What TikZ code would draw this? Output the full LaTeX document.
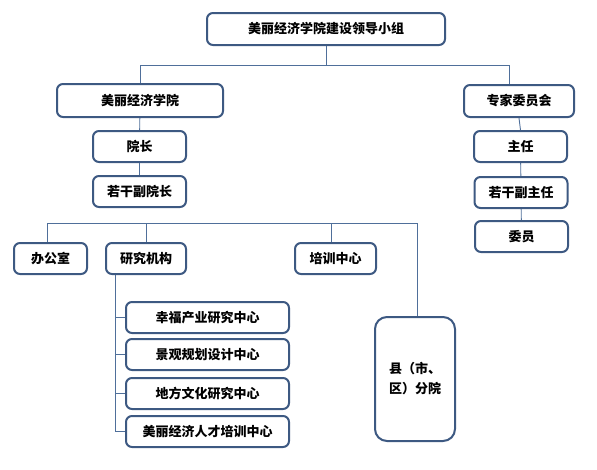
\documentclass[tikz,border=0pt]{standalone}
\usepackage{fontspec}
\newfontfamily\cjk{Noto Sans CJK SC}
\definecolor{boxblue}{HTML}{3D5982}
\definecolor{lineblue}{HTML}{4F6F9A}
\tikzset{
  unit/.style={draw=boxblue, line width=2pt, rounded corners=6pt, fill=white,
    inner sep=0pt, minimum height=31pt, align=center,
    font=\cjk\bfseries\fontsize{13}{20}\selectfont},
  link/.style={draw=lineblue, line width=0.9pt}
}
\begin{document}
\begin{tikzpicture}[x=1pt,y=-1pt]
    \useasboundingbox (0,0) rectangle (597,469);
    % top level
    \node[unit, minimum width=238pt, minimum height=32pt] (lead) at (326,29) {美丽经济学院建设领导小组};
    \node[unit, minimum width=166pt, minimum height=33pt] (college) at (140,100.5) {美丽经济学院};
    \node[unit, minimum width=110pt, minimum height=32pt] (experts) at (519,101) {专家委员会};
    % college side
    \node[unit, minimum width=93pt] (dean) at (139.5,146.5) {院长};
    \node[unit, minimum width=93pt] (vicedean) at (139.5,191.5) {若干副院长};
    % committee side
    \node[unit, minimum width=93pt] (chair) at (520.5,146.5) {主任};
    \node[unit, minimum width=93pt] (vicechair) at (521,192.5) {若干副主任};
    \node[unit, minimum width=93pt] (member) at (521.5,236.5) {委员};
    % departments
    \node[unit, minimum width=73pt] (office) at (50.5,258.5) {办公室};
    \node[unit, minimum width=80pt] (research) at (146,258.5) {研究机构};
    \node[unit, minimum width=81pt] (training) at (335.5,258.5) {培训中心};
    \node[unit, minimum width=80pt, minimum height=124pt, rounded corners=12pt] (branch) at (415,379) {县（市、\\区）分院};
    % research centres
    \node[unit, minimum width=163pt] (rc1) at (207.5,317.5) {幸福产业研究中心};
    \node[unit, minimum width=163pt] (rc2) at (207.5,354.5) {景观规划设计中心};
    \node[unit, minimum width=163pt] (rc3) at (207.5,393.5) {地方文化研究中心};
    \node[unit, minimum width=163pt] (rc4) at (207.5,431.5) {美丽经济人才培训中心};

    \coordinate (busA) at (0,65); \coordinate (busB) at (0,223); %bus lines
    \coordinate (spine) at (115,0);
    \coordinate (expertsin) at ([xshift=-10pt]experts.north);
    \coordinate (officein) at ([xshift=-3.5pt]office.north);
    \coordinate (trainingin) at ([xshift=-4.5pt]training.north);
    \coordinate (branchin) at ([xshift=2pt]branch.north);

    \draw[link] (lead.south) -- (lead.south |- busA);
    \draw[link] (college.north) |- (busA -| expertsin) -- (expertsin);
    \draw[link] (college) -- (dean); \draw[link] (dean) -- (vicedean);
    \draw[link] (experts.south) -- (chair.north); \draw[link] (chair) -- (vicechair); \draw[link] (vicechair) -- (member);

    \draw[link] (officein) |- (busB -| branchin) -- (branchin);
    \draw[link] (research.north) -- (research.north |- busB);
    \draw[link] (trainingin) -- (trainingin |- busB);

    \draw[link] (spine |- research.south) |- (rc4.west);
    \foreach \c in {rc1,rc2,rc3} \draw[link] (\c.west) -- (\c.west -| spine);
\end{tikzpicture}
\end{document}
